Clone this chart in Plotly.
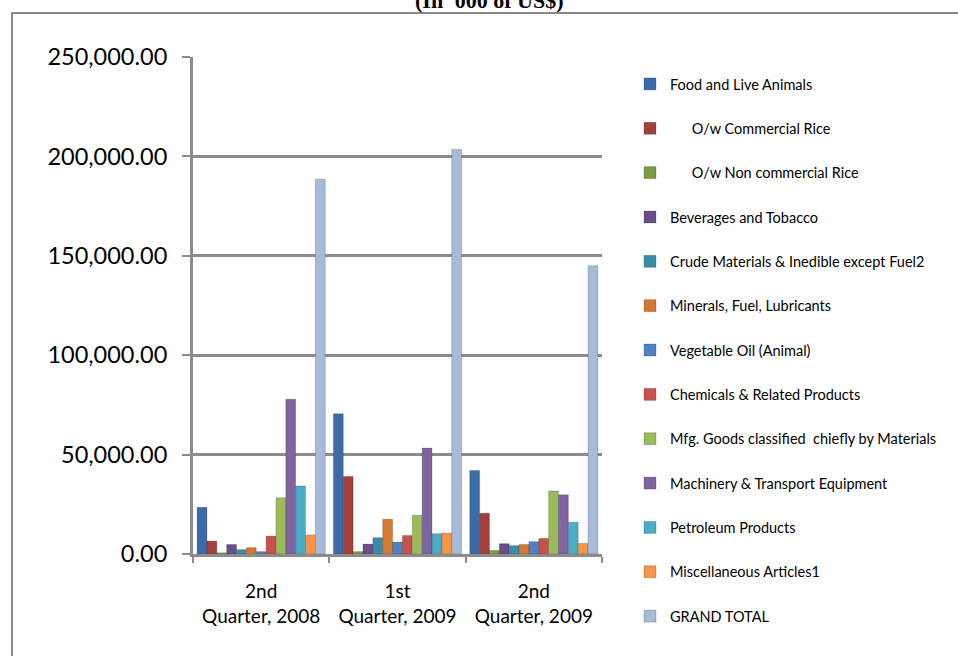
import plotly.graph_objects as go

# Periods on the category axis
periods = ["2nd<br>Quarter, 2008", "1st<br>Quarter, 2009", "2nd<br>Quarter, 2009"]

# Commodity groups (legend order)
food_live_animals = [23500, 70500, 42000]
commercial_rice = [6500, 39000, 20500]
non_commercial_rice = [600, 1200, 1800]
beverages_tobacco = [4800, 5000, 5200]
crude_materials = [2200, 8200, 4200]
minerals_fuel = [3200, 17500, 4800]
vegetable_oil = [1200, 6000, 6200]
chemicals = [9000, 9300, 7800]
mfg_goods = [28300, 19500, 31700]
machinery = [77800, 53300, 29800]
petroleum = [34200, 10200, 16000]
miscellaneous = [9600, 10500, 5300]
grand_total = [188500, 203500, 145000]

series_names = [
    "Food and Live Animals",
    "\u2003\u2003O/w Commercial Rice",
    "\u2003\u2003O/w Non commercial Rice",
    "Beverages and Tobacco",
    "Crude Materials & Inedible except Fuel2",
    "Minerals, Fuel, Lubricants",
    "Vegetable Oil (Animal)",
    "Chemicals & Related Products",
    "Mfg. Goods classified  chiefly by Materials",
    "Machinery & Transport Equipment",
    "Petroleum Products",
    "Miscellaneous Articles1",
    "GRAND TOTAL",
]
series_values = [
    food_live_animals, commercial_rice, non_commercial_rice, beverages_tobacco,
    crude_materials, minerals_fuel, vegetable_oil, chemicals, mfg_goods,
    machinery, petroleum, miscellaneous, grand_total,
]
series_colors = [
    "#3D6BA8", "#A53F3C", "#7D9B42", "#684F8C", "#3A8DA6", "#D4792F",
    "#4F81C4", "#C9504D", "#9BBB59", "#8064A2", "#4BACC6", "#F79646",
    "#A8BAD9",
]

FONT = "Lato, Calibri, Carlito, sans-serif"

fig = go.Figure()
for name, vals, col in zip(series_names, series_values, series_colors):
    fig.add_trace(go.Bar(
        name=name, x=periods, y=vals, legendgroup=name,
        marker=dict(color=col, line=dict(color="rgba(0,0,0,0.18)", width=1)),
    ))

W, H = 958, 656
ml, mr, mt, mb = 193, 356, 57, 102
pw, ph = W - ml - mr, H - mt - mb

def px_x(x):
    return (x - ml) / pw

def px_y(y):
    return (H - mb - y) / ph

fig.update_layout(
    width=W, height=H,
    margin=dict(l=ml, r=mr, t=mt, b=mb),
    paper_bgcolor="white", plot_bgcolor="white",
    barmode="group", bargap=0.06, bargroupgap=0,
    font=dict(family=FONT, color="#000000"),
    showlegend=True,
    legend=dict(
        xref="container", yref="container",
        x=630 / W, y=1 - 68 / H, xanchor="left", yanchor="top",
        font=dict(family=FONT, size=14.5, color="#000000"),
        tracegroupgap=22.5, itemwidth=30, maxheight=640,
        bgcolor="rgba(0,0,0,0)",
    ),
    xaxis=dict(
        showline=True, linecolor="#8c8c8c", linewidth=3,
        ticks="outside", tickson="boundaries", ticklen=6,
        tickcolor="#8c8c8c", tickwidth=2,
        ticklabelstandoff=18,
        tickfont=dict(family=FONT, size=19, color="#000000"),
        showgrid=False,
    ),
    yaxis=dict(
        range=[0, 250000], tickvals=[0, 50000, 100000, 150000, 200000, 250000],
        tickformat=",.2f",
        showline=True, linecolor="#8c8c8c", linewidth=3,
        ticks="outside", ticklen=8, tickcolor="#8c8c8c", tickwidth=2,
        ticklabelstandoff=10,
        tickfont=dict(family=FONT, size=23.5, color="#000000"),
        showgrid=True, gridcolor="#8c8c8c", gridwidth=3,
        zeroline=False,
    ),
    shapes=[
        # chart frame (left and top edges visible)
        dict(type="rect", xref="paper", yref="paper",
             x0=px_x(12), x1=px_x(W + 20), y0=px_y(H + 20), y1=px_y(13),
             line=dict(color="#8a8a8a", width=2), fillcolor="rgba(0,0,0,0)",
             layer="below"),
    ],
    annotations=[
        dict(text="<b>(In '000 of US$)</b>", xref="paper", yref="paper",
             x=px_x(489), y=px_y(1), xanchor="center", yanchor="middle",
             showarrow=False,
             font=dict(family="Liberation Serif, Times New Roman, serif",
                       size=22, color="#000000")),
    ],
)

fig.write_html("out.html")
